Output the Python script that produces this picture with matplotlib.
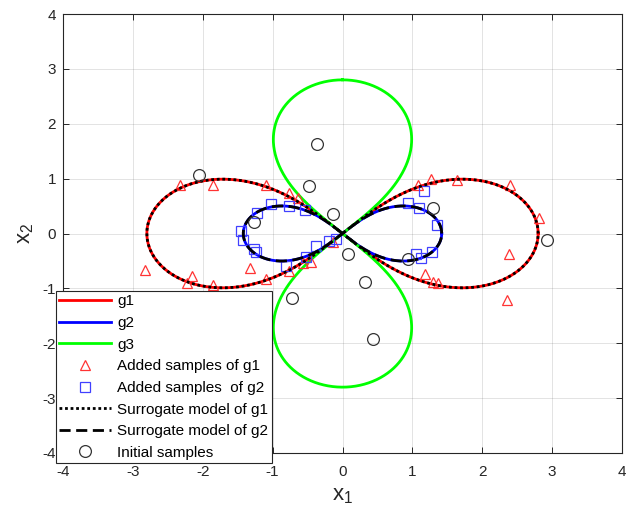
import numpy as np
import matplotlib
matplotlib.use("Agg")
import matplotlib.pyplot as plt

plt.rcParams['font.family'] = ['Liberation Sans', 'DejaVu Sans']
plt.rcParams['mathtext.default'] = 'regular'
plt.rcParams['axes.unicode_minus'] = False

# reach of each lemniscate-shaped limit state along its long axis
g1_reach = 2.8
g2_reach = 1.42
g3_reach = 2.8

# added samples of g1 (triangles)
g1_x1 = [-2.32, -1.86, -1.09, -0.77, -0.64, -2.83, -2.16, -2.23, -1.86, -1.33,
         -1.09, -0.77, -0.57, -0.45, -0.14, 1.08, 1.27, 1.64, 2.39, 2.81,
         2.38, 2.35, 1.18, 1.29, 1.36]
g1_x2 = [0.88, 0.89, 0.88, 0.73, 0.64, -0.67, -0.78, -0.90, -0.94, -0.62,
         -0.83, -0.69, -0.53, -0.52, -0.15, 0.89, 1.00, 0.98, 0.89, 0.29,
         -0.37, -1.21, -0.73, -0.88, -0.90]

# added samples of g2 (squares)
g2_x1 = [-1.02, -0.76, -0.54, -1.23, -1.45, -1.43, -1.26, -1.24, -0.81, -0.52,
         -0.38, -0.20, -0.09, 1.16, 0.94, 1.09, 1.35, 1.05, 1.13, 1.28]
g2_x2 = [0.53, 0.50, 0.42, 0.38, 0.04, -0.11, -0.29, -0.33, -0.59, -0.42,
         -0.22, -0.13, -0.10, 0.78, 0.56, 0.47, 0.16, -0.37, -0.44, -0.33]

# initial samples (circles)
init_x1 = [-2.05, -0.37, -0.48, -0.14, -1.26, 1.29, 2.93, 0.08, 0.94, 0.32, -0.72, 0.44]
init_x2 = [1.07, 1.64, 0.87, 0.35, 0.21, 0.46, -0.11, -0.38, -0.46, -0.88, -1.17, -1.93]


def lemniscate(a, vertical=False, n=800):
    # Bernoulli lemniscate with half-length a
    t = np.linspace(0, 2 * np.pi, n)
    d = 1 + np.sin(t) ** 2
    u = a * np.cos(t) / d
    v = a * np.sin(t) * np.cos(t) / d
    if vertical:
        return v, u
    return u, v


fig = plt.figure(figsize=(6.29, 5.15), dpi=100)
ax = fig.add_axes([63 / 629, 62 / 515, 559 / 629, 439 / 515])

x, y = lemniscate(g1_reach)
ax.plot(x, y, color=(1, 0, 0), lw=2, label='g1')
x, y = lemniscate(g2_reach)
ax.plot(x, y, color=(0, 0, 1), lw=2, label='g2')
x, y = lemniscate(g3_reach, vertical=True)
ax.plot(x, y, color=(0, 1, 0), lw=2, label='g3')

ax.plot(g1_x1, g1_x2, '^', ms=7.5, mfc='none', mec=(1, 0.2, 0.2), mew=0.9,
        label='Added samples of g1')
ax.plot(g2_x1, g2_x2, 's', ms=6.5, mfc='none', mec=(0.25, 0.25, 1), mew=0.9,
        label='Added samples  of g2')

x, y = lemniscate(g1_reach)
ax.plot(x, y, color='k', lw=2, ls=(0, (1, 1)), label='Surrogate model of g1')
x, y = lemniscate(g2_reach)
ax.plot(x, y, color='k', lw=2, ls=(0, (4, 2)), label='Surrogate model of g2')

ax.plot(init_x1, init_x2, 'o', ms=8.5, mfc='none', mec='#333333', mew=0.9,
        label='Initial samples')

ax.set_xlim(-4, 4)
ax.set_ylim(-4, 4)
ax.set_xticks(range(-4, 5))
ax.set_yticks(range(-4, 5))
ax.grid(True, color='#262626', alpha=0.15, lw=0.6)
ax.tick_params(direction='in', top=True, right=True, length=4, width=0.7,
               colors='#262626', labelsize=11)
ax.tick_params(axis='x', pad=9)
ax.tick_params(axis='y', pad=5)
for s in ax.spines.values():
    s.set_color('#262626')
    s.set_linewidth(0.8)

ax.set_xlabel('x$_1$', fontsize=16, color='#262626', labelpad=4)
ax.set_ylabel('x$_2$', fontsize=16, color='#262626', labelpad=5)

leg = ax.legend(loc='upper left', bbox_to_anchor=(56 / 629, 1 - 291 / 515),
                bbox_transform=fig.transFigure, borderaxespad=0, fontsize=11,
                handlelength=3.4, handletextpad=0.4, labelspacing=0.5,
                borderpad=0.22, fancybox=False, framealpha=1, numpoints=1)
leg.get_frame().set_edgecolor('#262626')
leg.get_frame().set_linewidth(0.8)

fig.savefig('out.png', dpi=100)
